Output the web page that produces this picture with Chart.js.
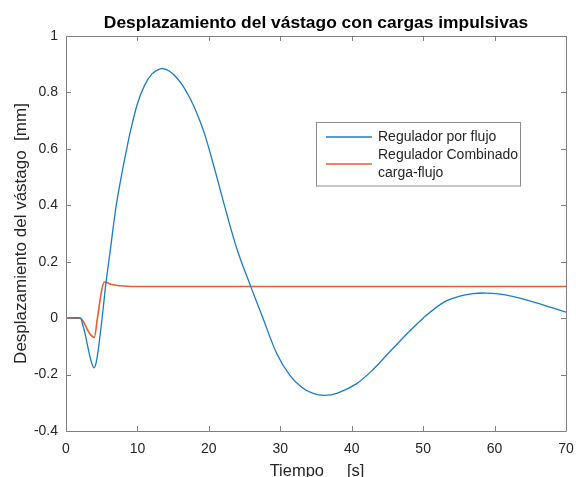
<!DOCTYPE html>
<html>
<head>
<meta charset="utf-8">
<script src="https://cdn.jsdelivr.net/npm/chart.js@4.4.1/dist/chart.umd.min.js"></script>
<style>
html,body{margin:0;padding:0;background:#fff;}
#wrap{width:576px;height:477px;position:relative;}
</style>
</head>
<body>
<div id="wrap"><canvas id="c" width="576" height="477"></canvas></div>
<script>
// ---- data ----
const chartTitle = 'Desplazamiento del vástago con cargas impulsivas';
const xTitle = 'Tiempo     [s]';
const yTitle = 'Desplazamiento del vástago  [mm]';
const xTicks = [0, 10, 20, 30, 40, 50, 60, 70];
const yTicks = [-0.4, -0.2, 0, 0.2, 0.4, 0.6, 0.8, 1];

const seriesNames = [['Regulador por flujo'], ['Regulador Combinado', 'carga-flujo']];

const tFlujo = [0, 2.0, 2.3, 2.66, 3.0, 3.36, 3.65, 3.92, 4.2, 4.5, 4.75, 5.0, 5.25, 5.5, 5.8, 6.2, 6.6, 7.1,
  7.8, 8.5, 9.0, 10.0, 11.0, 12.0, 13.0, 13.6, 14.5, 15.5, 16.5, 17.5, 18.5, 19.5, 20.9, 22.5, 24.0, 25.9, 27.5, 29.5,
  31.4, 33.0, 34.5, 36.2, 38.0, 40.7, 43.0, 45.0, 46.8, 48.2, 50.0, 52.8, 55.0, 57.0, 58.7, 60.5, 62.5, 65.4, 68.0, 70.0];
const vFlujo = [0, 0, -0.02, -0.054, -0.095, -0.137, -0.163, -0.176, -0.16, -0.115, -0.065, -0.012, 0.045, 0.105, 0.165, 0.24, 0.32, 0.41,
  0.51, 0.6, 0.66, 0.76, 0.825, 0.865, 0.882, 0.884, 0.875, 0.852, 0.818, 0.772, 0.715, 0.645, 0.52, 0.37, 0.24, 0.11, 0.005, -0.125,
  -0.205, -0.245, -0.266, -0.274, -0.266, -0.232, -0.182, -0.128, -0.08, -0.044, 0.0, 0.055, 0.077, 0.087, 0.089, 0.086, 0.077, 0.058, 0.037, 0.021];

const tComb = [0, 2.0, 2.43, 2.8, 3.1, 3.5, 3.96, 4.43, 5.0, 5.36, 5.7, 6.4, 7.5, 8.5, 10, 70];
const vComb = [0, 0, -0.013, -0.03, -0.046, -0.06, -0.068, 0.005, 0.099, 0.128, 0.126, 0.119, 0.115, 0.113, 0.112, 0.112];

const colFlujo = '#1a7cc6';
const colComb = '#de6232';

// ---- chart ----
const FONT = '"Liberation Sans", Arial, Helvetica, sans-serif';
const toXY = (ts, vs) => ts.map((t, i) => ({x: t, y: vs[i]}));

const decoPlugin = {
  id: 'deco',
  afterDraw(chart) {
    const ctx = chart.ctx;
    const a = chart.chartArea;
    const xs = chart.scales.x, ys = chart.scales.y;
    ctx.save();
    // box
    ctx.strokeStyle = '#808080';
    ctx.lineWidth = 1;
    ctx.beginPath();
    ctx.rect(Math.round(a.left) + 0.5, Math.round(a.top) + 0.5, Math.round(a.right - a.left), Math.round(a.bottom - a.top));
    ctx.stroke();
    // inward ticks
    const tl = 5;
    ctx.beginPath();
    xTicks.forEach(v => {
      const px = Math.round(xs.getPixelForValue(v)) + 0.5;
      ctx.moveTo(px, a.bottom); ctx.lineTo(px, a.bottom - tl);
      ctx.moveTo(px, a.top); ctx.lineTo(px, a.top + tl);
    });
    yTicks.forEach(v => {
      const py = Math.round(ys.getPixelForValue(v)) + 0.5;
      ctx.moveTo(a.left, py); ctx.lineTo(a.left + tl, py);
      ctx.moveTo(a.right, py); ctx.lineTo(a.right - tl, py);
    });
    ctx.stroke();

    // title
    ctx.fillStyle = '#000';
    ctx.font = 'bold 17.4px ' + FONT;
    ctx.textAlign = 'center';
    ctx.textBaseline = 'alphabetic';
    ctx.fillText(chartTitle, (a.left + a.right) / 2, 28);

    // x title
    ctx.fillStyle = '#262626';
    ctx.font = '16.5px ' + FONT;
    ctx.fillText(xTitle, (a.left + a.right) / 2 + 1, 476);

    // y title
    ctx.save();
    ctx.translate(25.5, (a.top + a.bottom) / 2);
    ctx.rotate(-Math.PI / 2);
    ctx.font = '17px ' + FONT;
    ctx.textAlign = 'center';
    ctx.fillText(yTitle, 0, 0);
    ctx.restore();

    // legend
    const lx = 316.5, ly = 122.5, lw = 204, lh = 63.5;
    ctx.fillStyle = '#fff';
    ctx.fillRect(lx, ly, lw, lh);
    ctx.strokeStyle = '#8c8c8c';
    ctx.lineWidth = 1;
    ctx.strokeRect(lx, ly, lw, lh);
    ctx.font = '14px ' + FONT;
    ctx.textAlign = 'left';
    ctx.textBaseline = 'middle';
    const lineH = 18;
    let y = 137;
    chart.data.datasets.forEach((ds, i) => {
      const lines = seriesNames[i];
      const mid = y + (lines.length - 1) * lineH / 2;
      ctx.strokeStyle = ds.borderColor;
      ctx.lineWidth = ds.borderWidth;
      ctx.beginPath();
      ctx.moveTo(326, mid); ctx.lineTo(372, mid);
      ctx.stroke();
      ctx.fillStyle = '#262626';
      lines.forEach((s, k) => ctx.fillText(s, 378, y + k * lineH));
      y += lines.length * lineH;
    });
    ctx.restore();
  }
};

new Chart(document.getElementById('c'), {
  type: 'line',
  data: {
    datasets: [
      {label: seriesNames[0].join(' '), data: toXY(tFlujo, vFlujo), borderColor: colFlujo, borderWidth: 1.3,
       pointRadius: 0, fill: false, tension: 0.35},
      {label: seriesNames[1].join(' '), data: toXY(tComb, vComb), borderColor: colComb, borderWidth: 1.6,
       pointRadius: 0, fill: false, cubicInterpolationMode: 'monotone'}
    ]
  },
  options: {
    responsive: false,
    animation: false,
    devicePixelRatio: 1,
    layout: {padding: {left: 0, right: 10, top: 36, bottom: 0}},
    plugins: {legend: {display: false}, title: {display: false}, tooltip: {enabled: false}},
    scales: {
      x: {
        type: 'linear', min: 0, max: 70,
        border: {display: false},
        grid: {display: false, drawTicks: false},
        afterBuildTicks: s => { s.ticks = xTicks.map(v => ({value: v})); },
        afterFit: s => { s.height = 46; s.paddingLeft = 0; s.paddingRight = 0; },
        ticks: {color: '#262626', font: {family: FONT, size: 14}, padding: 10, maxRotation: 0,
                callback: v => String(v)}
      },
      y: {
        type: 'linear', min: -0.4, max: 1,
        border: {display: false},
        grid: {display: false, drawTicks: false},
        afterBuildTicks: s => { s.ticks = yTicks.map(v => ({value: v})); },
        afterFit: s => { s.width = 66; s.paddingTop = 0; s.paddingBottom = 0; },
        ticks: {color: '#262626', font: {family: FONT, size: 14}, padding: 8,
                callback: v => String(Math.round(v * 10) / 10)}
      }
    }
  },
  plugins: [decoPlugin]
});
</script>
</body>
</html>
